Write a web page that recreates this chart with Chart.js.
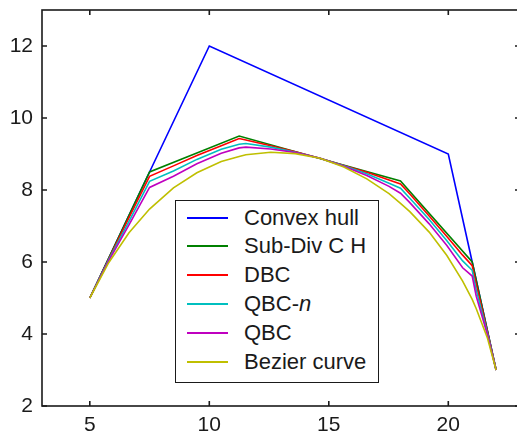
<!DOCTYPE html>
<html>
<head>
<meta charset="utf-8">
<script src="https://cdn.jsdelivr.net/npm/chart.js@4"></script>
<style>
  html, body { margin: 0; padding: 0; background: #fff; overflow: hidden; width: 517px; height: 438px; }
  #wrap { position: relative; width: 522px; height: 438px; }
  #legend { position: absolute; left: 175px; top: 200px; width: 204px; height: 183px; box-sizing: border-box;
            border: 1.6px solid #1a1a1a; background: #fff; font-family: "Liberation Sans", Arial, sans-serif; font-size: 22px; color: #1a1a1a; }
  .row { position: absolute; left: 0; height: 26px; line-height: 26px; width: 100%; }
  .sw { position: absolute; left: 11px; top: 12px; width: 41px; height: 2px; }
  .tx { position: absolute; left: 68px; top: 0; white-space: nowrap; }
</style>
</head>
<body>
<div id="wrap">
  <canvas id="c" width="522" height="438"></canvas>
  <div id="legend"></div>
</div>
<script>
// ---- data ----
const seriesNames = ['Convex hull', 'Sub-Div C H', 'DBC', 'QBC-n', 'QBC', 'Bezier curve'];
const seriesColors = ['#0000ff', '#008000', '#ff0000', '#00bfbf', '#bf00bf', '#bfbf00'];

const hullX = [5, 7.5, 10, 20, 21, 22];
const hullY = [5, 8.5, 12, 9, 6, 3];

const subDivX = [5, 7.5, 11.25, 14.625, 18, 21, 22];
const subDivY = [5, 8.5, 9.5, 8.875, 8.25, 6, 3];

const curveX = [5, 5.79, 6.64, 7.5, 8.5, 9.48, 10.5, 11.25, 11.53, 12.57, 13.6, 14.63, 15.63, 16.59, 17.52, 18, 18.39, 19.2, 19.94, 20.6, 21, 21.17, 21.64, 22];
const dbcY    = [5, 6.08, 7.23, 8.38, 8.67, 8.96, 9.23, 9.43, 9.39, 9.23, 9.06, 8.88, 8.68, 8.49, 8.28, 8.17, 7.89, 7.28, 6.71, 6.19, 5.90, 5.38, 4.05, 3];
const qbcnY   = [5, 6.06, 7.13, 8.24, 8.53, 8.85, 9.13, 9.27, 9.29, 9.19, 9.05, 8.88, 8.67, 8.45, 8.19, 8.05, 7.77, 7.18, 6.59, 6.03, 5.77, 5.22, 4.01, 3];
const qbcY    = [5, 6.03, 7.03, 8.07, 8.38, 8.73, 9.02, 9.17, 9.19, 9.14, 9.04, 8.88, 8.66, 8.40, 8.10, 7.91, 7.65, 7.06, 6.46, 5.84, 5.61, 5.05, 3.97, 3];
const bezierY = [5, 5.98, 6.81, 7.47, 8.06, 8.48, 8.79, 8.93, 8.98, 9.05, 9.01, 8.88, 8.64, 8.31, 7.90, 7.63, 7.40, 6.83, 6.18, 5.47, 4.96, 4.70, 3.88, 3];

const xTicks = [5, 10, 15, 20];
const yTicks = [2, 4, 6, 8, 10, 12];
const xRange = [3, 23];
const yRange = [2, 13];

// ---- build ----
const pts = (xs, ys) => xs.map((x, i) => ({ x: x, y: ys[i] }));
const seriesData = [
  pts(hullX, hullY), pts(subDivX, subDivY), pts(curveX, dbcY),
  pts(curveX, qbcnY), pts(curveX, qbcY), pts(curveX, bezierY)
];

const datasets = seriesData.map((d, i) => ({
  label: seriesNames[i],
  data: d,
  borderColor: seriesColors[i],
  backgroundColor: seriesColors[i],
  borderWidth: 1.6,
  pointRadius: 0,
  showLine: true,
  tension: 0,
  fill: false,
  order: seriesData.length - i
}));

const frameColor = '#1a1a1a';
const tickFont = { family: '"Liberation Sans", Arial, sans-serif', size: 21 };

const framePlugin = {
  id: 'frame',
  afterDatasetsDraw(chart) {
    const { ctx, chartArea: a, scales } = chart;
    ctx.save();
    ctx.strokeStyle = frameColor;
    ctx.lineWidth = 1.6;
    ctx.strokeRect(a.left, a.top, a.right - a.left, a.bottom - a.top);
    const L = 5;
    ctx.beginPath();
    xTicks.forEach(v => {
      const px = scales.x.getPixelForValue(v);
      ctx.moveTo(px, a.bottom); ctx.lineTo(px, a.bottom - L);
      ctx.moveTo(px, a.top); ctx.lineTo(px, a.top + L);
    });
    yTicks.forEach(v => {
      const py = scales.y.getPixelForValue(v);
      ctx.moveTo(a.left, py); ctx.lineTo(a.left + L, py);
      ctx.moveTo(a.right, py); ctx.lineTo(a.right - L, py);
    });
    ctx.stroke();
    ctx.restore();
  }
};

const chart = new Chart(document.getElementById('c'), {
  type: 'scatter',
  data: { datasets },
  options: {
    responsive: false,
    animation: false,
    layout: { padding: { top: 10, right: 2, left: 0, bottom: 0 } },
    plugins: { legend: { display: false }, tooltip: { enabled: false } },
    scales: {
      x: {
        type: 'linear', min: xRange[0], max: xRange[1],
        grid: { display: false, drawTicks: false },
        border: { display: false },
        ticks: { font: tickFont, color: '#1a1a1a', padding: 7, maxRotation: 0 },
        afterBuildTicks: s => { s.ticks = xTicks.map(v => ({ value: v })); },
        afterFit: s => { s.height = 32; s.paddingLeft = 0; s.paddingRight = 0; }
      },
      y: {
        type: 'linear', min: yRange[0], max: yRange[1],
        grid: { display: false, drawTicks: false },
        border: { display: false },
        ticks: { font: tickFont, color: '#1a1a1a', padding: 9 },
        afterBuildTicks: s => { s.ticks = yTicks.map(v => ({ value: v })); },
        afterFit: s => { s.width = 42; s.paddingTop = 0; s.paddingBottom = 0; }
      }
    }
  },
  plugins: [framePlugin]
});

// ---- legend (HTML, built from the chart's datasets) ----
const legend = document.getElementById('legend');
const rowCenters = [19, 47, 76, 105, 134, 163];
chart.data.datasets.forEach((ds, i) => {
  const row = document.createElement('div');
  row.className = 'row';
  row.style.top = (rowCenters[i] - 13 - 1.6) + 'px';
  const sw = document.createElement('span');
  sw.className = 'sw';
  sw.style.background = ds.borderColor;
  const tx = document.createElement('span');
  tx.className = 'tx';
  const m = ds.label.match(/^(.*-)(n)$/);
  if (m) { tx.textContent = m[1]; const it = document.createElement('i'); it.textContent = m[2]; tx.appendChild(it); }
  else tx.textContent = ds.label;
  row.appendChild(sw); row.appendChild(tx);
  legend.appendChild(row);
});
</script>
</body>
</html>
